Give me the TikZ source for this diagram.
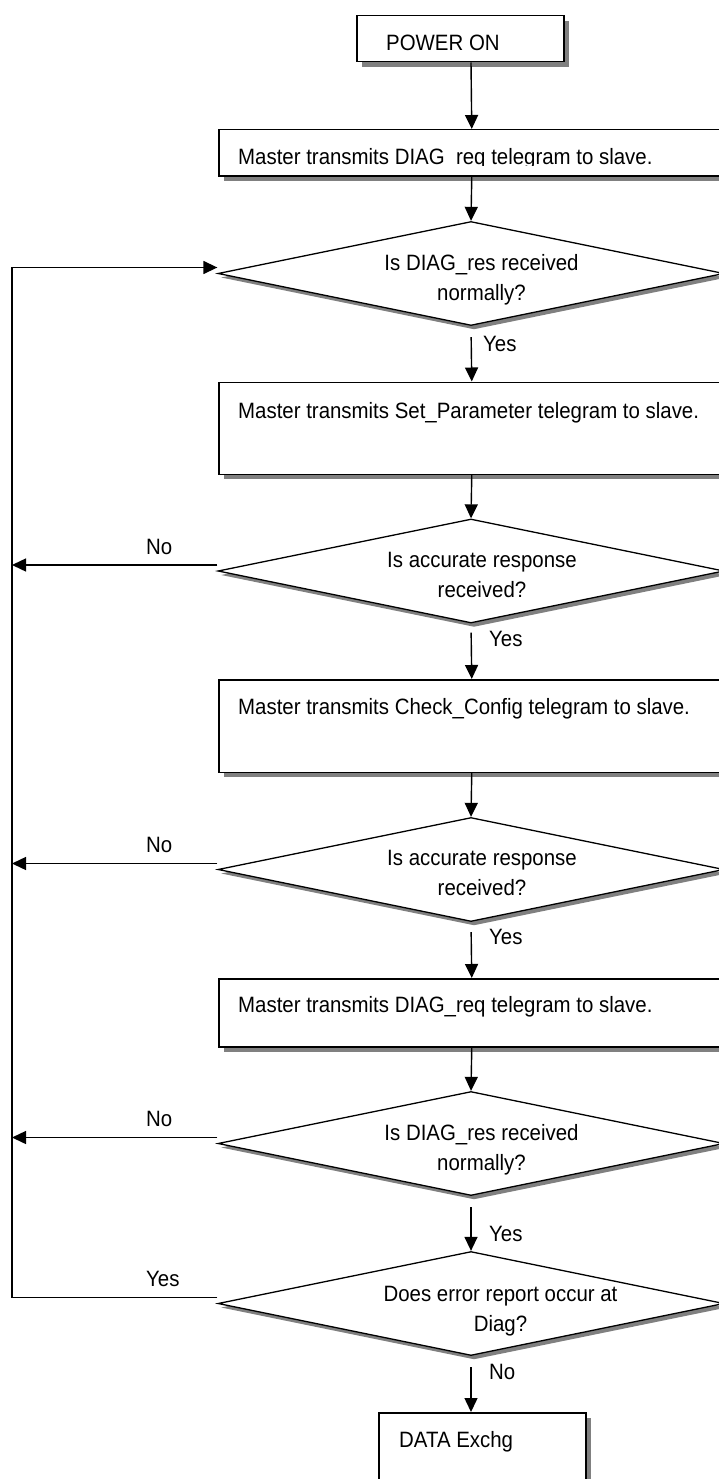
\documentclass[tikz,border=0pt]{standalone}
\usepackage{fontspec}
\setmainfont{Liberation Sans}[FakeStretch=0.92]
\usepackage{tikz}
\usetikzlibrary{positioning, shapes.geometric, calc, arrows.meta, shadows}
\definecolor{fcLine}{RGB}{0, 0, 0}
\definecolor{fcShadow}{RGB}{128, 128, 128}
\tikzset{
    base/.style={
        font=\fontsize{22.2}{30}\selectfont,
        inner sep=0pt
    },
    stepbox/.style={
        rectangle,
        draw=fcLine,
        line width=1.5pt,
        fill=white,
        inner sep=0pt,
        anchor=north west,
        drop shadow={opacity=1, fill=fcShadow, shadow xshift=5pt, shadow yshift=-5pt}
    },
    decision/.style={
        diamond,
        draw=fcLine,
        line width=1.3pt,
        fill=white,
        inner sep=0pt,
        minimum width=506pt,
        minimum height=104pt,
        drop shadow={opacity=1, fill=fcShadow, shadow xshift=3pt, shadow yshift=-4pt}
    },
    txt/.style={
        base,
        anchor=base west
    },
    question/.style={
        base,
        align=center,
        anchor=base
    },
    branch/.style={
        base,
        anchor=base west
    },
    flow/.style={
        -{Triangle[length=14pt, width=13pt]},
        line width=1.4pt,
        color=fcLine
    }
}

\begin{document}
\begin{tikzpicture}[x=1pt, y=-1pt]
    \useasboundingbox (0,0) rectangle (718,1479);
    \coordinate (axis) at (471,0);
    \coordinate (rail) at (12,0);

    % Start
    \node[stepbox, minimum width=207pt, minimum height=46pt] (power) at (356,15) {};
    \node[txt] (powerText) at (386,50.5) {POWER ON};

    % First diagnosis
    \node[stepbox, minimum width=506pt, minimum height=46.5pt] (diagReq) at (218,129) {};
    \begin{scope}
        \clip (218,129) rectangle (724,166);
        \node[txt] (diagReqText) at (238,165) {Master transmits DIAG\_req telegram to slave.};
    \end{scope}
    \node[decision] (diagRes) at (471,273.5) {};
    \node[question] (diagResText) at (481.5,300) {Is DIAG\_res received\\normally?};

    % Parameters
    \node[stepbox, minimum width=506pt, minimum height=92pt] (setParam) at (218,381.5) {};
    \node[txt] (setParamText) at (238,418) {Master transmits Set\_Parameter telegram to slave.};
    \node[decision] (paramAck) at (471,571) {};
    \node[question] (paramAckText) at (482,597) {Is accurate response\\received?};

    % Configuration
    \node[stepbox, minimum width=506pt, minimum height=92.5pt] (checkCfg) at (218,679) {};
    \node[txt] (checkCfgText) at (238,714.5) {Master transmits Check\_Config telegram to slave.};
    \node[decision] (cfgAck) at (471,869.5) {};
    \node[question] (cfgAckText) at (482,895) {Is accurate response\\received?};

    % Second diagnosis
    \node[stepbox, minimum width=506pt, minimum height=68pt] (diagReqB) at (218,978) {};
    \node[txt] (diagReqBText) at (238,1012.5) {Master transmits DIAG\_req telegram to slave.};
    \node[decision] (diagResB) at (471,1143.5) {};
    \node[question] (diagResBText) at (481.5,1170) {Is DIAG\_res received\\normally?};
    \node[decision] (errRep) at (471,1303.5) {};
    \node[question] (errRepText) at (500.5,1331.5) {Does error report occur at\\Diag?};

    % End
    \node[stepbox, minimum width=207pt, minimum height=90pt] (dataEx) at (378,1412) {};
    \node[txt] (dataExText) at (399,1447) {DATA Exchg};

    % Main flow
    \draw[flow] (power.south -| axis) -- (diagReq.north);
    \draw[flow] (diagReq.south) -- (diagRes.north);
    \draw[flow, shorten <=11pt] (diagRes.south) -- (setParam.north);
    \draw[flow] (setParam.south) -- (paramAck.north);
    \draw[flow, shorten <=9pt] (paramAck.south) -- (checkCfg.north);
    \draw[flow] (checkCfg.south) -- (cfgAck.north);
    \draw[flow, shorten <=10pt] (cfgAck.south) -- (diagReqB.north);
    \draw[flow] (diagReqB.south) -- (diagResB.north);
    \draw[flow, shorten <=11pt] (diagResB.south) -- (errRep.north);
    \draw[flow, shorten <=11pt] (errRep.south) -- (dataEx.north -| axis);

    \node[branch] (yesA) at (483,351.5) {Yes};
    \node[branch] (yesB) at (489,646) {Yes};
    \node[branch] (yesC) at (489,944) {Yes};
    \node[branch] (yesD) at (489,1241) {Yes};
    \node[branch] (noE) at (489,1379) {No};

    % Failure paths
    \draw[flow] ($(paramAck.west)+(0,-6)$) coordinate (noA) -- (noA -| rail);
    \draw[flow] ($(cfgAck.west)+(0,-6)$) coordinate (noB) -- (noB -| rail);
    \draw[flow] ($(diagResB.west)+(0,-6)$) coordinate (noC) -- (noC -| rail);
    \draw[flow] ($(errRep.west)+(0,-6)$) -| ($(rail |- diagRes.west)+(0,-6)$) -- ($(diagRes.west)+(0,-6)$);

    \node[branch] (noALabel) at (146,554) {No};
    \node[branch] (noBLabel) at (146,852.5) {No};
    \node[branch] (noCLabel) at (146,1126.5) {No};
    \node[branch] (yesLabel) at (146,1286.5) {Yes};
\end{tikzpicture}
\end{document}
